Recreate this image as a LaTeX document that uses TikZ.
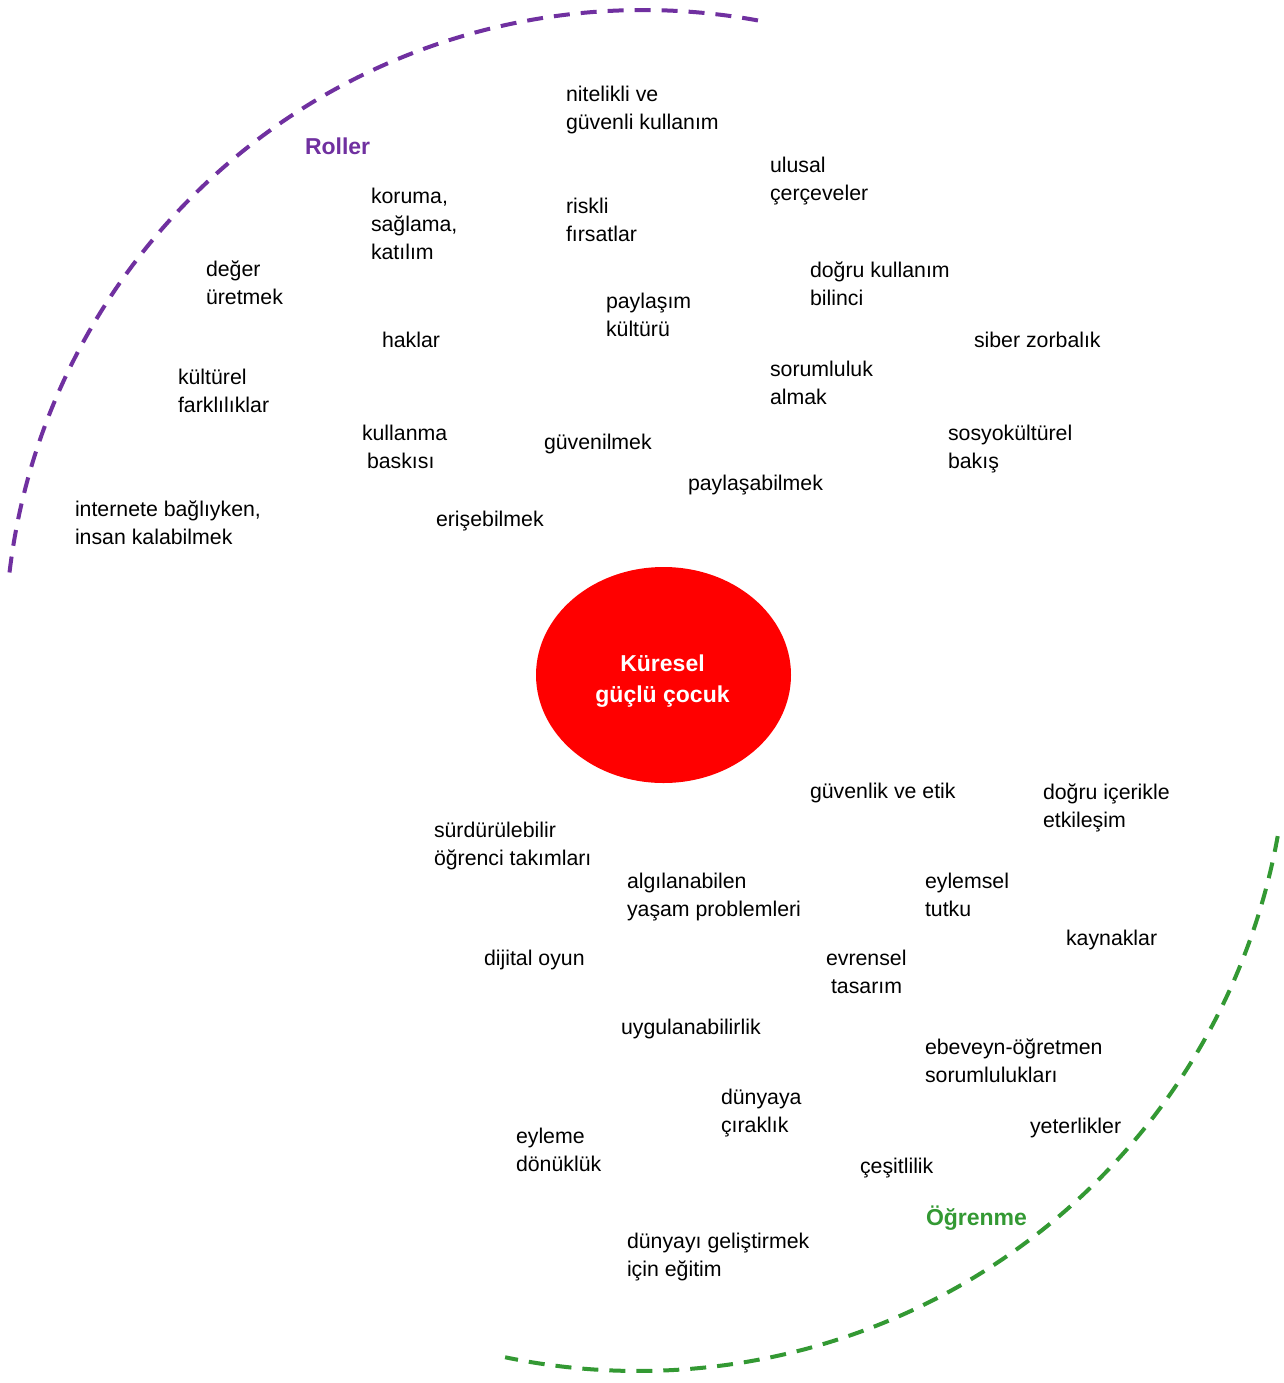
\documentclass[tikz,border=0pt]{standalone}
\usepackage{fontspec}
\setmainfont{Liberation Sans}
\usetikzlibrary{shapes.geometric}
\definecolor{rolpurple}{RGB}{112,48,160}
\definecolor{oggreen}{RGB}{51,153,51}
\definecolor{corered}{RGB}{255,0,0}
\newcommand\mlines[1]{\begin{tabular}[t]{@{}l@{}}#1\end{tabular}}
\begin{document}
\begin{tikzpicture}[x=1pt,y=1pt,
  lbl/.style={anchor=base west, inner sep=0pt, outer sep=0pt, text=black,
              font=\fontsize{21.3}{28}\selectfont},
  grouplbl/.style={anchor=base west, inner sep=0pt, outer sep=0pt,
              font=\fontsize{23}{28}\selectfont\bfseries},
  ring/.style={line width=4pt, dash pattern=on 16pt off 11pt},
  corestyle/.style={ellipse, fill=corered, draw=none, minimum width=255pt,
              minimum height=216pt, inner sep=0pt},
  coretxt/.style={text=white, inner sep=0pt, align=center,
              font=\fontsize{23}{31}\selectfont\bfseries}]
\fill[white] (0,0) rectangle (1283,-1383);
\useasboundingbox (0,0) rectangle (1283,-1383);

% dashed arcs
\draw[ring, rolpurple] (643,-648) ++(173.2:638) arc[start angle=173.2, end angle=79.3, radius=638];
\draw[ring, oggreen] (638,-721) ++(-10.2:650) arc[start angle=-10.2, end angle=-101.8, radius=650];

% centre
\node[corestyle] (core) at (663.5,-675) {};
\node[coretxt] (coretext) at (662.5,-681) {\begin{tabular}{@{}c@{}}Küresel\\güçlü çocuk\end{tabular}};

% group labels
\node[grouplbl, text=rolpurple] (roller) at (305,-155) {Roller};
\node[grouplbl, text=oggreen] (ogrenme) at (926,-1225) {Öğrenme};

% upper labels
\node[lbl] (n1) at (566,-102) {\mlines{nitelikli ve\\güvenli kullanım}};
\node[lbl] (n2) at (770,-173) {\mlines{ulusal\\çerçeveler}};
\node[lbl] (n3) at (371,-204) {\mlines{koruma,\\sağlama,\\katılım}};
\node[lbl] (n4) at (566,-214) {\mlines{riskli\\fırsatlar}};
\node[lbl] (n5) at (206,-276) {\mlines{değer\\üretmek}};
\node[lbl] (n6) at (810,-277) {\mlines{doğru kullanım\\bilinci}};
\node[lbl] (n7) at (606,-308) {\mlines{paylaşım\\kültürü}};
\node[lbl] (n8) at (382,-347) {haklar};
\node[lbl] (n9) at (974,-347) {siber zorbalık};
\node[lbl] (n10) at (770,-376) {\mlines{sorumluluk\\almak}};
\node[lbl] (n11) at (178,-384) {\mlines{kültürel\\farklılıklar}};
\node[lbl] (n12) at (362,-440) {\mlines{kullanma\\\hspace*{5pt}baskısı}};
\node[lbl] (n13) at (948,-440) {\mlines{sosyokültürel\\bakış}};
\node[lbl] (n14) at (544,-449) {güvenilmek};
\node[lbl] (n15) at (688,-490) {paylaşabilmek};
\node[lbl] (n16) at (75,-516) {\mlines{internete bağlıyken,\\insan kalabilmek}};
\node[lbl] (n17) at (436,-526) {erişebilmek};

% lower labels
\node[lbl] (m1) at (810,-798) {güvenlik ve etik};
\node[lbl] (m2) at (1043,-799) {\mlines{doğru içerikle\\etkileşim}};
\node[lbl] (m3) at (434,-837) {\mlines{sürdürülebilir\\öğrenci takımları}};
\node[lbl] (m4) at (627,-888) {\mlines{algılanabilen\\yaşam problemleri}};
\node[lbl] (m5) at (925,-888) {\mlines{eylemsel\\tutku}};
\node[lbl] (m6) at (1066,-945) {kaynaklar};
\node[lbl] (m7) at (484,-965) {dijital oyun};
\node[lbl] (m8) at (826,-965) {\mlines{evrensel\\\hspace*{5pt}tasarım}};
\node[lbl] (m9) at (621,-1034) {uygulanabilirlik};
\node[lbl] (m10) at (925,-1054) {\mlines{ebeveyn-öğretmen\\sorumlulukları}};
\node[lbl] (m11) at (721,-1104) {\mlines{dünyaya\\çıraklık}};
\node[lbl] (m12) at (1030,-1133) {yeterlikler};
\node[lbl] (m13) at (516,-1143) {\mlines{eyleme\\dönüklük}};
\node[lbl] (m14) at (860,-1173) {çeşitlilik};
\node[lbl] (m15) at (627,-1248) {\mlines{dünyayı geliştirmek\\için eğitim}};
\end{tikzpicture}
\end{document}
